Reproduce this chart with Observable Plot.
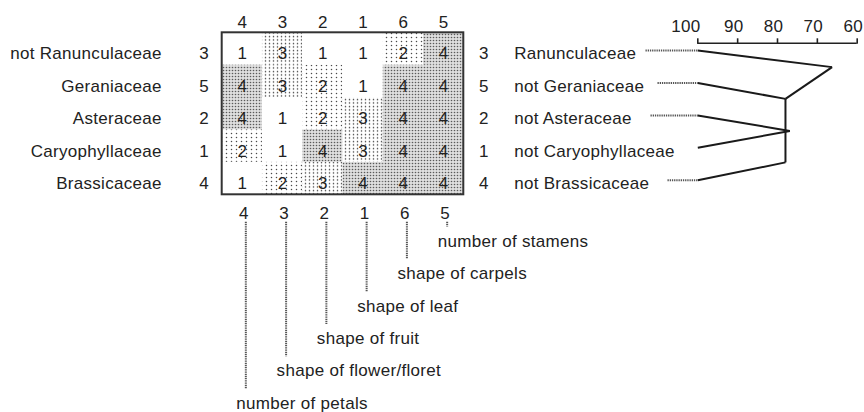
<!DOCTYPE html>
<html><head><meta charset="utf-8">
<script src="https://cdn.jsdelivr.net/npm/d3@7"></script>
<script src="https://cdn.jsdelivr.net/npm/@observablehq/plot@0.6"></script>
<style>
html,body{margin:0;padding:0;background:#fff;overflow:hidden}
#chart{position:relative;width:864px;height:412px}
#chart > svg{position:absolute;left:0;top:0}
#chart text{letter-spacing:0.3px}
</style></head><body>
<svg width="0" height="0" style="position:absolute">
<defs>
<pattern id="p2" width="5" height="4" patternUnits="userSpaceOnUse"><rect width="5" height="4" fill="#fff"/><circle cx="1.5" cy="1.5" r="0.75" fill="#4a4a4a"/></pattern>
<pattern id="p3" width="4" height="3.5" patternUnits="userSpaceOnUse"><rect width="4" height="3.5" fill="#fff"/><circle cx="1.5" cy="1.5" r="0.75" fill="#4a4a4a"/></pattern>
<pattern id="p4" width="3" height="3" patternUnits="userSpaceOnUse"><rect width="3" height="3" fill="#dedede"/><circle cx="1.5" cy="1.5" r="0.8" fill="#5a5a5a"/></pattern>
</defs></svg>
<div id="chart"></div>
<script>
// ---- data ----
const columnCharacters = [4, 3, 2, 1, 6, 5];
const characterLabels = ["shape of leaf", "shape of fruit", "shape of flower/floret", "number of petals", "number of stamens", "shape of carpels"]; // characters 1..6
const leftTaxa = ["not Ranunculaceae", "Geraniaceae", "Asteraceae", "Caryophyllaceae", "Brassicaceae"];
const rightTaxa = ["Ranunculaceae", "not Geraniaceae", "not Asteraceae", "not Caryophyllaceae", "not Brassicaceae"];
const rowNumbers = [3, 5, 2, 1, 4];
const scores = [
  [1, 3, 1, 1, 2, 4],
  [4, 3, 2, 1, 4, 4],
  [4, 1, 2, 3, 4, 4],
  [2, 1, 4, 3, 4, 4],
  [1, 2, 3, 4, 4, 4]
];
const similarityTicks = [100, 90, 80, 70, 60];
// dendrogram: junction similarity (%) and the leaves / groups they join
const junctionSimilarity = {R: 66.3, G: 78.0, AC: 76.9, B: 78.0};
const leafJoins = ["R", "G", "AC", "AC", "B"];
const branchJoins = [["R", "G"], ["G", "B"]];
const hasConnector = [true, true, true, false, true];

// ---- layout ----
const font = "'Liberation Sans', Arial, Helvetica, sans-serif";
const xGrid = {domain: [-0.5, 5.5], range: [221.7, 463.3], axis: null};
const yRows = {domain: [-0.5, 4.5], range: [32.3, 194.3], axis: null};
const junctionRow = {R: 0.51, G: 1.49, AC: 2.48, B: 3.45};
const connectorStartPx = [645, 657, 650, null, 667];
const sx = d3.scaleLinear([100, 60], [697.3, 856.7]);
const baseStyle = {fontFamily: font, fontSize: "17px", color: "#222", background: "transparent", overflow: "visible"};
const hatched = {stroke: "#555", strokeWidth: 2, strokeDasharray: "1.3,0.9"};

const cells = scores.flatMap((row, r) => row.map((v, c) => ({r, c, v})));
const patternOf = {1: "white", 2: "url(#p2)", 3: "url(#p3)", 4: "url(#p4)"};
const nCols = columnCharacters.length, nRows = leftTaxa.length;
const annot = columnCharacters.map((ch, i) => ({i, name: characterLabels[ch - 1], row: nRows + (nCols - i)}));

const A = Plot.plot({
  width: 864, height: 412, margin: 0,
  x: xGrid, y: yRows, color: {type: "identity"},
  style: baseStyle,
  marks: [
    Plot.rect(cells, {x1: d => d.c - 0.5, x2: d => d.c + 0.5, y1: d => d.r - 0.5, y2: d => d.r + 0.5, fill: d => patternOf[d.v]}),
    Plot.text(cells, {x: "c", y: "r", text: "v", dy: 5, fill: "#222"}),
    Plot.rect([0], {x1: -0.5, x2: nCols - 0.5, y1: -0.5, y2: nRows - 0.5, fill: "none", stroke: "#333", strokeWidth: 2}),
    Plot.text(columnCharacters, {x: (d, i) => i, y: -0.5, dy: -10.6, text: d => String(d)}),
    Plot.text(columnCharacters, {x: (d, i) => i, y: nRows - 0.5, dy: 18.9, dx: 1.5, text: d => String(d)}),
    Plot.text(leftTaxa, {x: -2, y: (d, i) => i, dy: 5, text: d => d, textAnchor: "end"}),
    Plot.text(rowNumbers, {x: -1, dx: 2, y: (d, i) => i, dy: 5, text: d => String(d)}),
    Plot.text(rowNumbers, {x: nCols, y: (d, i) => i, dy: 5, text: d => String(d)}),
    Plot.text(rightTaxa, {x: nCols + 0.75, y: (d, i) => i, dy: 5, text: d => d, textAnchor: "start"}),
    Plot.ruleX(annot, {x: "i", dx: 3.5, y1: 5.35, y2: d => d.row - 0.5, ...hatched}),
    Plot.text(annot, {x: "i", y: "row", dy: -2, dx: -6, text: "name", textAnchor: "start"})
  ]
});

const segs = [
  ...leafJoins.map((j, i) => ({s1: 100, r1: i, s2: junctionSimilarity[j], r2: junctionRow[j]})),
  ...branchJoins.map(([a, b]) => ({s1: junctionSimilarity[a], r1: junctionRow[a], s2: junctionSimilarity[b], r2: junctionRow[b]}))
];
const conns = rightTaxa.map((t, i) => ({i, s0: connectorStartPx[i] == null ? null : sx.invert(connectorStartPx[i])})).filter((d, i) => hasConnector[i]);
const axisRow = -0.5 + (42.7 - 32.3) / 32.4;

const B = Plot.plot({
  width: 864, height: 412, marginTop: 42.7, marginLeft: 0, marginRight: 0, marginBottom: 0,
  x: {domain: [100, 60], range: [697.3, 856.7], axis: null},
  y: yRows,
  style: baseStyle,
  marks: [
    Plot.axisX({anchor: "top", ticks: similarityTicks, tickSize: 5.4, tickFormat: () => "", label: null, strokeWidth: 1.6}),
    Plot.text(similarityTicks.slice(0, 1), {x: d => d, frameAnchor: "top", lineAnchor: "middle", dy: -16.2, dx: -12, text: d => String(d)}),
    Plot.text(similarityTicks.slice(1), {x: d => d, frameAnchor: "top", lineAnchor: "middle", dy: -16.2, dx: -4, text: d => String(d)}),
    Plot.ruleY([axisRow], {x1: 100, x2: 60, stroke: "#222", strokeWidth: 1.6}),
    Plot.link(conns, {x1: "s0", x2: 100, y1: "i", y2: "i", dy: 1.6, ...hatched}),
    Plot.link(segs, {x1: "s1", y1: "r1", x2: "s2", y2: "r2", dy: 1.6, stroke: "#1a1a1a", strokeWidth: 2})
  ]
});

const root = document.getElementById("chart");
root.appendChild(A);
root.appendChild(B);
</script>
</body></html>
